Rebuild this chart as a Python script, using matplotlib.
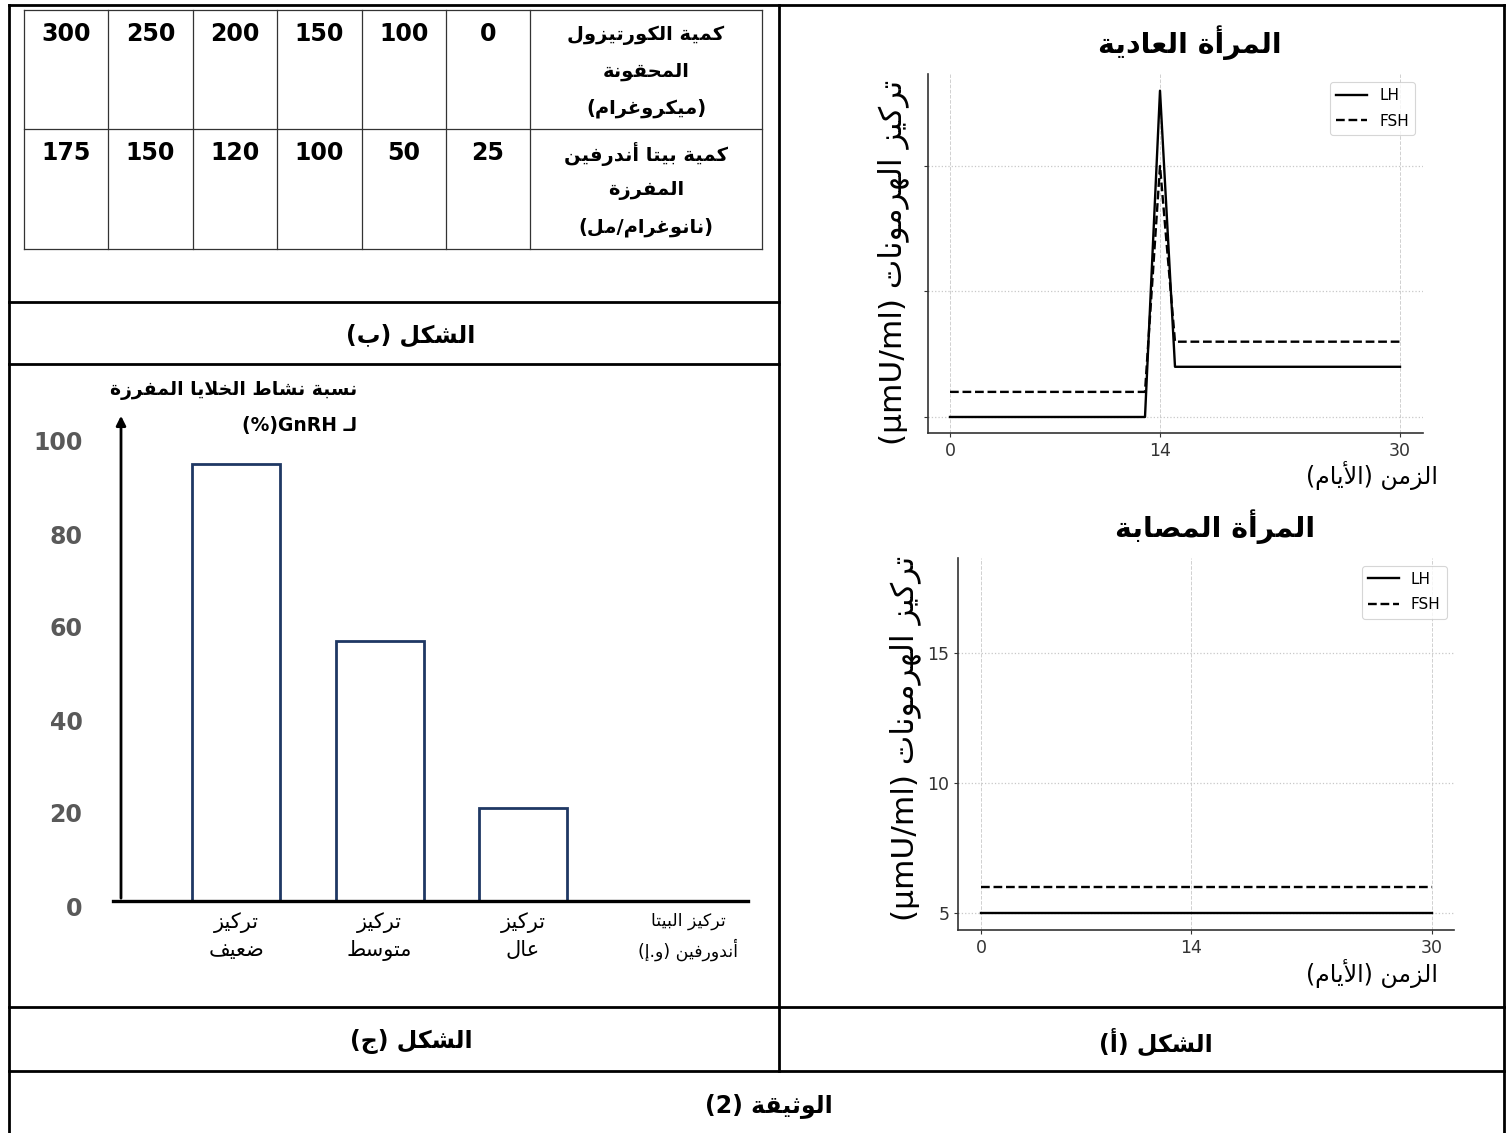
import re
import matplotlib
matplotlib.use("Agg")
import matplotlib.pyplot as plt
import matplotlib.transforms as mtransforms

W, H = 1509, 1133

# ---- data ----
cortisol_header = "كمية الكورتيزول\nالمحقونة\n(ميكروغرام)"
endorphin_header = "كمية بيتا أندرفين\nالمفرزة\n(نانوغرام/مل)"
cortisol_doses = [0, 100, 150, 200, 250, 300]
endorphin_levels = [25, 50, 100, 120, 150, 175]

bar_labels = ["تركيز\nضعيف", "تركيز\nمتوسط", "تركيز\nعال"]
bar_values = [94, 56, 20]
bar_yticks = [0, 20, 40, 60, 80, 100]

days_normal = [0, 13, 14, 15, 30]
lh_normal = [5, 5, 18, 7, 7]
fsh_normal = [6, 6, 15, 8, 8]
days_patient = [0, 30]
lh_patient = [5, 5]
fsh_patient = [6, 6]
day_ticks = [0, 14, 30]
hormone_ticks = [5, 10, 15]

# ---- minimal arabic shaping + bidi (matplotlib draws glyphs left to right) ----
_letters = {
    'ء': (0xFE80, 1), 'آ': (0xFE81, 2), 'أ': (0xFE83, 2), 'ؤ': (0xFE85, 2),
    'إ': (0xFE87, 2), 'ئ': (0xFE89, 4), 'ا': (0xFE8D, 2), 'ب': (0xFE8F, 4),
    'ة': (0xFE93, 2), 'ت': (0xFE95, 4), 'ث': (0xFE99, 4), 'ج': (0xFE9D, 4),
    'ح': (0xFEA1, 4), 'خ': (0xFEA5, 4), 'د': (0xFEA9, 2), 'ذ': (0xFEAB, 2),
    'ر': (0xFEAD, 2), 'ز': (0xFEAF, 2), 'س': (0xFEB1, 4), 'ش': (0xFEB5, 4),
    'ص': (0xFEB9, 4), 'ض': (0xFEBD, 4), 'ط': (0xFEC1, 4), 'ظ': (0xFEC5, 4),
    'ع': (0xFEC9, 4), 'غ': (0xFECD, 4), 'ف': (0xFED1, 4), 'ق': (0xFED5, 4),
    'ك': (0xFED9, 4), 'ل': (0xFEDD, 4), 'م': (0xFEE1, 4), 'ن': (0xFEE5, 4),
    'ه': (0xFEE9, 4), 'و': (0xFEED, 2), 'ى': (0xFEEF, 2), 'ي': (0xFEF1, 4),
}
_lamalef = {'آ': 0xFEF5, 'أ': 0xFEF7, 'إ': 0xFEF9, 'ا': 0xFEFB}
TATWEEL = 'ـ'
_mirror = str.maketrans('()', ')(')
_ltr = re.compile(r'[A-Za-z0-9µ](?:[A-Za-z0-9µ/.\-]*[A-Za-z0-9µ])?')


def _joins_next(c):
    return c == TATWEEL or (c in _letters and _letters[c][1] == 4)


def _joins_prev(c):
    return c == TATWEEL or (c in _letters and c != 'ء')


def shape(s):
    out = []
    i = 0
    while i < len(s):
        c = s[i]
        if c not in _letters:
            out.append(c)
            i += 1
            continue
        prev = i > 0 and _joins_next(s[i - 1])
        if c == 'ل' and i + 1 < len(s) and s[i + 1] in _lamalef:
            out.append(chr(_lamalef[s[i + 1]] + (1 if prev else 0)))
            i += 2
            continue
        base, n = _letters[c]
        nxt = n == 4 and i + 1 < len(s) and _joins_prev(s[i + 1])
        if n == 1:
            form = 0
        elif n == 2:
            form = 1 if prev else 0
        else:
            form = [[0, 2], [1, 3]][prev][nxt]
        out.append(chr(base + form))
        i += 1
    return ''.join(out)


def ar(text):
    lines = []
    for line in text.split('\n'):
        s = shape(line)
        parts, pos = [], 0
        for m in _ltr.finditer(s):
            if m.start() > pos:
                parts.append((False, s[pos:m.start()]))
            parts.append((True, m.group()))
            pos = m.end()
        if pos < len(s):
            parts.append((False, s[pos:]))
        vis = ''
        for is_ltr, seg in reversed(parts):
            vis += seg if is_ltr else seg[::-1].translate(_mirror)
        lines.append(vis)
    return '\n'.join(lines)


def box(x0, y0, x1, y1):
    return [x0 / W, 1 - y1 / H, (x1 - x0) / W, (y1 - y0) / H]


plt.rcParams['font.family'] = ['DejaVu Sans']

fig = plt.figure(figsize=(W / 100, H / 100), dpi=100)

# overlay in pixel coordinates for the frame, table and captions
ov = fig.add_axes([0, 0, 1, 1])
ov.set_xlim(0, W)
ov.set_ylim(H, 0)
ov.axis('off')

frame_lw = 2.0
for x in (9, 1504):
    ov.plot([x, x], [5, 1133], color='black', lw=frame_lw)
ov.plot([9, 1504], [5, 5], color='black', lw=frame_lw)
ov.plot([779, 779], [5, 1071], color='black', lw=frame_lw)
for y in (302, 364):
    ov.plot([9, 779], [y, y], color='black', lw=frame_lw)
ov.plot([9, 1504], [1007, 1007], color='black', lw=frame_lw)
ov.plot([9, 1504], [1071, 1071], color='black', lw=frame_lw)

# table (b)
col_edges = [24, 108, 193, 277, 362, 446, 530, 762]
row_edges = [10, 129, 249]
for x in col_edges:
    ov.plot([x, x], [row_edges[0], row_edges[-1]], color='#333333', lw=0.9)
for y in row_edges:
    ov.plot([col_edges[0], col_edges[-1]], [y, y], color='#333333', lw=0.9)

for r, (header, vals) in enumerate([(cortisol_header, cortisol_doses),
                                    (endorphin_header, endorphin_levels)]):
    y0 = row_edges[r]
    for k, line in enumerate(header.split('\n')):
        ov.text(646, y0 + 25 + k * 36.5, ar(line), ha='center', va='center',
                fontsize=14, fontweight='bold')
    for j, v in enumerate(vals):
        xc = (col_edges[5 - j] + col_edges[6 - j]) / 2
        ov.text(xc, y0 + 24, str(v), ha='center', va='center',
                fontsize=17, fontweight='bold')

# captions
cap_kw = dict(ha='center', va='center', fontsize=17, fontweight='bold')
ov.text(411, 336, ar("الشكل (ب)"), **cap_kw)
ov.text(411, 1042, ar("الشكل (ج)"), **cap_kw)
ov.text(1156, 1042, ar("الشكل (أ)"), **cap_kw)
ov.text(769, 1106, ar("الوثيقة (2)"), **cap_kw)

# ---- bar chart (c) ----
axb = fig.add_axes(box(113, 413, 748, 901))
axb.patch.set_visible(False)
px_unit = 143.5
axb.set_xlim((113 - 236) / px_unit, (748 - 236) / px_unit)
axb.set_ylim(0, (901 - 413) / 4.65)
xs = list(range(len(bar_values)))
axb.bar(xs, bar_values, width=88 / px_unit, facecolor='white',
        edgecolor='#1f3864', linewidth=2.0)
for s in ('top', 'right', 'left'):
    axb.spines[s].set_visible(False)
axb.spines['bottom'].set_linewidth(2.4)
axb.annotate('', xy=((121 - 236) / px_unit, 1.0), xytext=((121 - 236) / px_unit, 0.0),
             xycoords=('data', 'axes fraction'), textcoords=('data', 'axes fraction'),
             arrowprops=dict(arrowstyle='-|>', color='black', lw=2.0, mutation_scale=14))
axb.set_yticks(bar_yticks)
axb.set_yticklabels([str(t) for t in bar_yticks], fontsize=17, fontweight='bold',
                    color='#595959')
axb.tick_params(axis='y', length=0, pad=22)
shift = mtransforms.ScaledTranslation(0, -0.05, fig.dpi_scale_trans)
for lab in axb.get_yticklabels():
    lab.set_transform(lab.get_transform() + shift)
axb.set_xticks(xs)
axb.set_xticklabels([ar(t) for t in bar_labels], fontsize=15, linespacing=1.45)
axb.tick_params(axis='x', length=0, pad=8)
axb.text((688 - 236) / px_unit, -0.022, ar("تركيز البيتا\nأندورفين (و.إ)"),
         transform=axb.get_xaxis_transform(), ha='center', va='top',
         fontsize=12.5, linespacing=1.5)
ov.text(357, 390, ar("نسبة نشاط الخلايا المفرزة"), ha='right', va='center',
        fontsize=13.5, fontweight='bold')
ov.text(357, 425, ar("لـ GnRH(%)"), ha='right', va='center',
        fontsize=13.5, fontweight='bold')


# ---- line charts (a) ----
def hormone_axes(rect, days, lh, fsh, show_ylabels):
    ax = fig.add_axes(rect)
    ax.plot(days, lh, color='black', lw=1.7, label='LH')
    ax.plot(days, fsh, color='black', lw=1.7, ls='--', label='FSH')
    ax.set_xlim(-1.5, 31.5)
    ax.set_ylim(4.35, 18.65)
    ax.set_xticks(day_ticks)
    ax.set_yticks(hormone_ticks)
    ax.tick_params(labelsize=12.5, length=3, colors='#333333')
    if not show_ylabels:
        ax.set_yticklabels([])
    ax.grid(True, axis='x', ls='--', color='#d0d0d0', lw=0.7)
    ax.grid(True, axis='y', ls=':', color='#c8c8c8', lw=0.9)
    for s in ('top', 'right'):
        ax.spines[s].set_visible(False)
    for s in ('left', 'bottom'):
        ax.spines[s].set_color('#333333')
        ax.spines[s].set_linewidth(1.2)
    leg = ax.legend(loc='upper right', fontsize=11, fancybox=True,
                    edgecolor='#cccccc', handlelength=2.0, labelspacing=0.7)
    leg.get_frame().set_linewidth(0.8)
    return ax


hormone_axes(box(927.5, 74.4, 1422.5, 433.3), days_normal, lh_normal, fsh_normal, False)
hormone_axes(box(958.5, 558, 1454.4, 930), days_patient, lh_patient, fsh_patient, True)

title_kw = dict(ha='center', va='center', fontsize=20.5, fontweight='bold')
ov.text(1190, 43, ar("المرأة العادية"), **title_kw)
ov.text(1215, 527, ar("المرأة المصابة"), **title_kw)
ylab = ar("تركيز الهرمونات (µmU/ml)")
ov.text(893, 262, ylab, rotation=90, ha='center', va='center', fontsize=22.5)
ov.text(905, 738, ylab, rotation=90, ha='center', va='center', fontsize=22.5)
ov.text(1438, 476, ar("الزمن (الأيام)"), ha='right', va='center', fontsize=17)
ov.text(1438, 973, ar("الزمن (الأيام)"), ha='right', va='center', fontsize=17)

fig.savefig("out.png", dpi=100)
